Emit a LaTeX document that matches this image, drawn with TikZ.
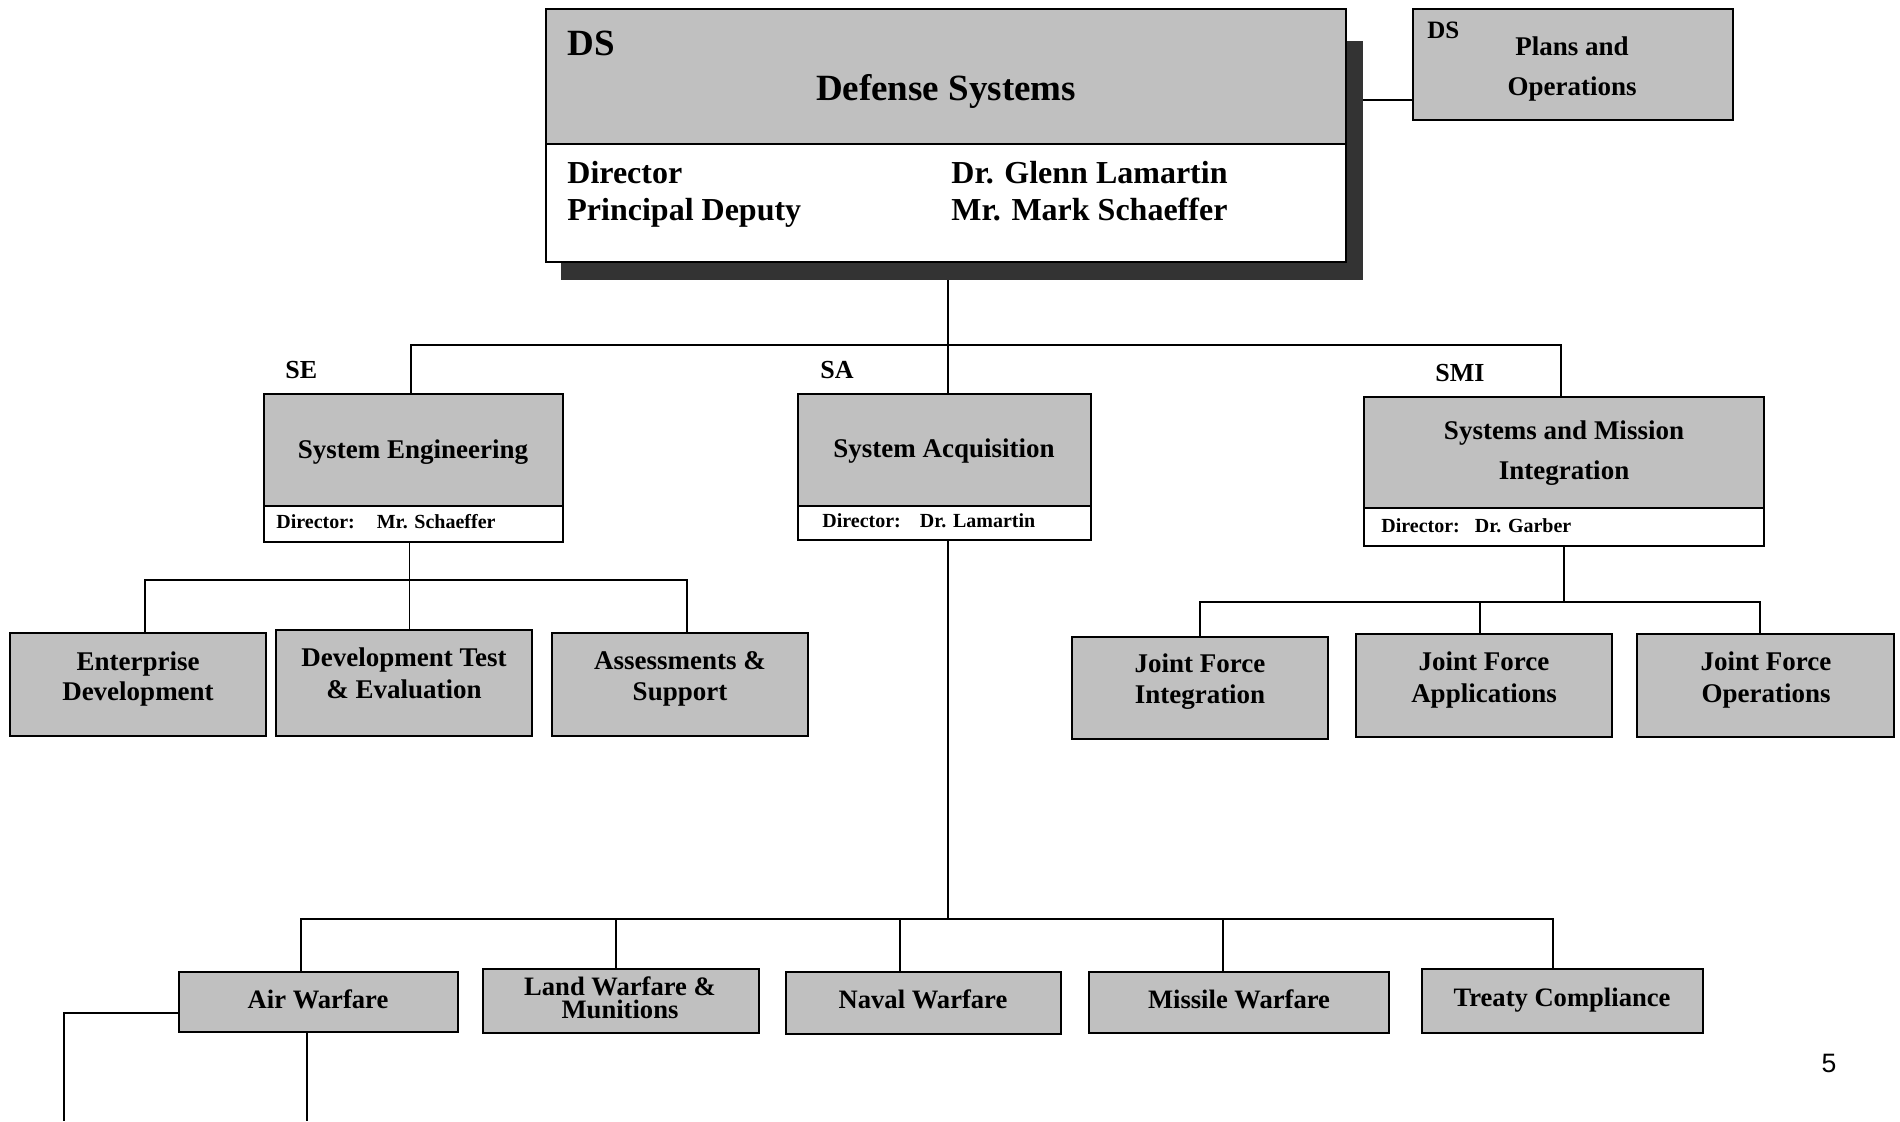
\documentclass[tikz,border=0pt]{standalone}
\usepackage{fontspec}
\setmainfont{Liberation Serif}
\setsansfont{Liberation Sans}
\usetikzlibrary{fit,backgrounds}
\definecolor{boxgray}{RGB}{192,192,192}
\definecolor{shadowgray}{RGB}{51,51,51}
\newcommand\fsTitle{\fontsize{18.5}{22}\selectfont}
\newcommand\fsDirector{\fontsize{16}{19}\selectfont}
\newcommand\fsPlansDS{\fontsize{12.5}{15}\selectfont}
\newcommand\fsPlans{\fontsize{13.5}{16}\selectfont}
\newcommand\fsLabel{\fontsize{13}{15}\selectfont}
\newcommand\fsBox{\fontsize{13.5}{16}\selectfont}
\newcommand\fsSmall{\fontsize{10}{12}\selectfont}
\newcommand\fsLeaf{\fontsize{13.3}{16}\selectfont}
\begin{document}
\begin{tikzpicture}[x=0.5pt,y=-0.5pt,
  gbox/.style={draw=black, fill=boxgray, line width=0.9pt, inner sep=0pt},
  wbox/.style={draw=black, fill=white, line width=0.9pt, inner sep=0pt},
  conn/.style={draw=black, line width=0.75pt},
  txt/.style={inner sep=0pt, anchor=base, font=\bfseries},
  ltxt/.style={inner sep=0pt, anchor=base west, font=\bfseries}]
\useasboundingbox (0,0) rectangle (1900,1121);

% ---------- top level ----------
\node[gbox, fit={(546,9) (1346,144)}] (dsh) {};
\node[wbox, fit={(546,144) (1346,262)}] (dsb) {};
\node[ltxt] (dsabbr) at (567,55) {\fsTitle DS};
\node[txt] (dstitle) at (946,100) {\fsTitle Defense Systems};
\node[ltxt] (dirrole) at (567,183) {\fsDirector Director};
\node[ltxt] (deprole) at (567,220) {\fsDirector Principal Deputy};
\node[ltxt] (dirname) at (951,183) {\fsDirector Dr. Glenn Lamartin};
\node[ltxt] (depname) at (951,220) {\fsDirector Mr. Mark Schaeffer};

\node[gbox, fit={(1413,9) (1733,120)}] (plans) {};
\node[ltxt] (plabbr) at (1427,38) {\fsPlansDS DS};
\node[txt] (plline1) at (1572,55) {\fsPlans Plans and};
\node[txt] (plline2) at (1572,95) {\fsPlans Operations};

% ---------- second level ----------
\node[gbox, fit={(264,394) (563,506)}] (se) {};
\node[wbox, fit={(264,506) (563,542)}] (sed) {};
\node[ltxt] (selabel) at (285,378) {\fsLabel SE};
\node[txt] (setitle) at (413,458) {\fsBox System Engineering};
\node[ltxt] (sedir) at (276,528) {\fsSmall Director:\hspace{11pt}Mr. Schaeffer};

\node[gbox, fit={(798,394) (1091,506)}] (sa) {};
\node[wbox, fit={(798,506) (1091,540)}] (sad) {};
\node[ltxt] (salabel) at (820,378) {\fsLabel SA};
\node[txt] (satitle) at (944,457) {\fsBox System Acquisition};
\node[ltxt] (sadir) at (822,527) {\fsSmall Director:\hspace{9.5pt}Dr. Lamartin};

\node[gbox, fit={(1364,397) (1764,508)}] (smi) {};
\node[wbox, fit={(1364,508) (1764,546)}] (smid) {};
\node[ltxt] (smilabel) at (1435,381) {\fsLabel SMI};
\node[txt] (smititle1) at (1564,439) {\fsBox Systems and Mission};
\node[txt] (smititle2) at (1564,479) {\fsBox Integration};
\node[ltxt] (smidir) at (1381,532) {\fsSmall Director:\hspace{7.5pt}Dr. Garber};

% ---------- SE offices ----------
\node[gbox, fit={(10,633) (266,736)}] (ed) {};
\node[txt] (edt1) at (138,670) {\fsBox Enterprise};
\node[txt] (edt2) at (138,700) {\fsBox Development};
\node[gbox, fit={(276,630) (532,736)}] (dte) {};
\node[txt] (dtet1) at (404,666) {\fsBox Development Test};
\node[txt] (dtet2) at (404,698) {\fsBox \& Evaluation};
\node[gbox, fit={(552,633) (808,736)}] (as) {};
\node[txt] (ast1) at (680,669) {\fsBox Assessments \&};
\node[txt] (ast2) at (680,700) {\fsBox Support};

% ---------- SMI offices ----------
\node[gbox, fit={(1072,637) (1328,739)}] (jfi) {};
\node[txt] (jfit1) at (1200,672) {\fsBox Joint Force};
\node[txt] (jfit2) at (1200,703) {\fsBox Integration};
\node[gbox, fit={(1356,634) (1612,737)}] (jfa) {};
\node[txt] (jfat1) at (1484,670) {\fsBox Joint Force};
\node[txt] (jfat2) at (1484,702) {\fsBox Applications};
\node[gbox, fit={(1637,634) (1894,737)}] (jfo) {};
\node[txt] (jfot1) at (1766,670) {\fsBox Joint Force};
\node[txt] (jfot2) at (1766,702) {\fsBox Operations};

% ---------- SA offices ----------
\node[gbox, fit={(179,972) (458,1032)}] (air) {};
\node[txt] (airt) at (318,1008) {\fsLeaf Air Warfare};
\node[gbox, fit={(483,969) (759,1033)}] (land) {};
\node[txt] (landt1) at (620,995) {\fsLeaf Land Warfare \&};
\node[txt] (landt2) at (620,1018) {\fsLeaf Munitions};
\node[gbox, fit={(786,972) (1061,1034)}] (naval) {};
\node[txt] (navalt) at (923,1008) {\fsLeaf Naval Warfare};
\node[gbox, fit={(1089,972) (1389,1033)}] (missile) {};
\node[txt] (missilet) at (1239,1008) {\fsLeaf Missile Warfare};
\node[gbox, fit={(1422,969) (1703,1033)}] (treaty) {};
\node[txt] (treatyt) at (1562,1006) {\fsLeaf Treaty Compliance};

\node[inner sep=0pt, anchor=base, font=\sffamily\fontsize{13.3}{15}\selectfont] (pagenum) at (1829,1072) {5};

% ---------- connector helper coordinates ----------
\coordinate (plrow) at (1380,100);
\coordinate (busA) at (0,345);
\coordinate (busB) at (0,580);
\coordinate (busC) at (0,602);
\coordinate (busD) at (0,919);
\coordinate (dsdown) at ([xshift=1pt]dsb.south);
\coordinate (setop) at ([xshift=-1.25pt]se.north);
\coordinate (sedown) at ([xshift=-2pt]sed.south);
\coordinate (smitop) at ([xshift=-1.5pt]smi.north);
\coordinate (sadown) at ([xshift=1.75pt]sad.south);
\coordinate (edtop) at ([xshift=3.5pt]ed.north);
\coordinate (astop) at ([xshift=3.5pt]as.north);
\coordinate (jfatop) at ([xshift=-2pt]jfa.north);
\coordinate (jfotop) at ([xshift=-2.75pt]jfo.north);
\coordinate (airtop) at ([xshift=-8.75pt]air.north);
\coordinate (landtop) at ([xshift=-2.5pt]land.north);
\coordinate (navaltop) at ([xshift=-11.75pt]naval.north);
\coordinate (missiletop) at ([xshift=-8pt]missile.north);
\coordinate (treatytop) at ([xshift=-4.75pt]treaty.north);
\coordinate (airleft) at (64,1121);
\coordinate (airdown) at (307,1121);

\begin{scope}[on background layer]
  \fill[white] (0,0) rectangle (1900,1121);
  % connectors
  \draw[conn] (dsh.east |- plrow) -- (plans.west |- plrow);
  \draw[conn] (dsdown) -- (dsdown |- sa.north);
  \draw[conn] (setop) -- (setop |- busA) -- (smitop |- busA) -- (smitop);
  % SE
  \draw[conn] (sedown) -- (sedown |- dte.north);
  \draw[conn] (edtop) |- (astop |- busB) -- (astop);
  % SMI
  \draw[conn] (smid.south) -- (smid.south |- busC);
  \draw[conn] (jfi.north) |- (jfotop |- busC) -- (jfotop);
  \draw[conn] (jfatop |- busC) -- (jfatop);
  % SA
  \draw[conn] (sadown) -- (sadown |- busD);
  \draw[conn] (airtop) |- (treatytop |- busD) -- (treatytop);
  \draw[conn] (landtop |- busD) -- (landtop);
  \draw[conn] (navaltop |- busD) -- (navaltop);
  \draw[conn] (missiletop |- busD) -- (missiletop);
  % Air Warfare continuation
  \draw[conn] ([yshift=-5.5pt]air.west) -| (airleft);
  \draw[conn] (air.south -| airdown) -- (airdown);
  % shadow of the DS box
  \fill[shadowgray] (561,41) rectangle (1363,280);
\end{scope}
\end{tikzpicture}
\end{document}
